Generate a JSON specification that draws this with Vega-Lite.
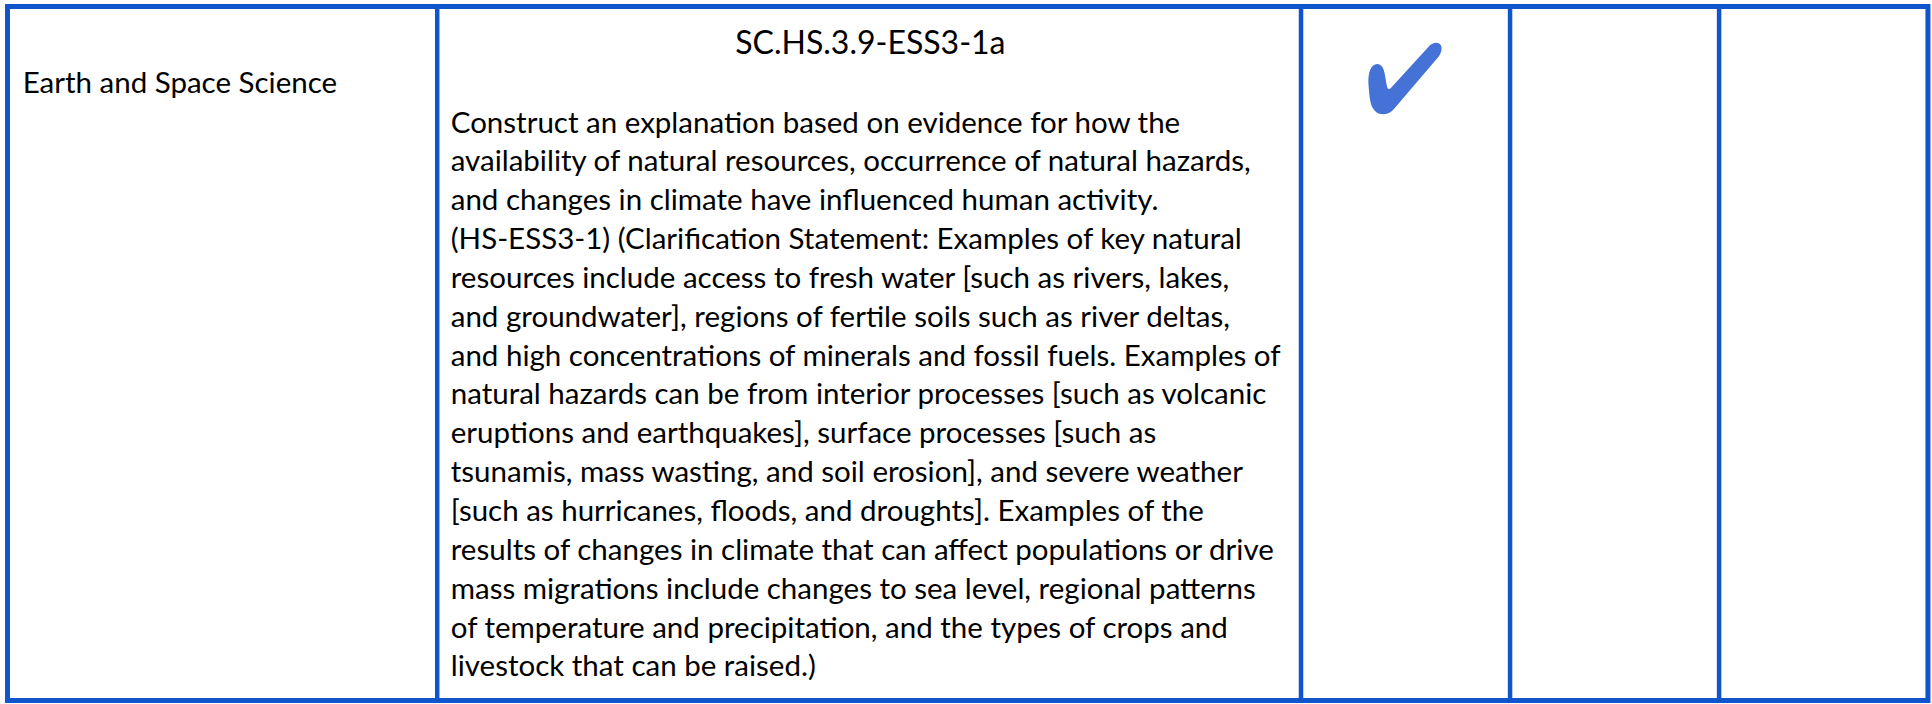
{
  "$schema": "https://vega.github.io/schema/vega-lite/v6.json",
  "width": 1932,
  "height": 704,
  "autosize": {"type": "fit", "contains": "padding"},
  "padding": 0,
  "background": "#ffffff",
  "config": {"view": {"stroke": null}},
  "layer": [
    {
      "data": {"values": [{"table": "row"}]},
      "mark": {"type": "rect", "fill": "#ffffff", "stroke": "#1155cc", "strokeWidth": 5},
      "encoding": {
        "x": {"datum": 0.388, "type": "quantitative", "scale": {"domain": [0, 100], "nice": false, "zero": false}, "axis": null},
        "x2": {"datum": 99.79},
        "y": {"datum": -3.244, "type": "quantitative", "scale": {"domain": [-3.411, 14.686], "nice": false, "zero": false, "reverse": true}, "axis": null},
        "y2": {"datum": 14.622}
      }
    },
    {
      "data": {"values": [{"edge": 22.63}, {"edge": 67.34}, {"edge": 78.16}, {"edge": 88.98}]},
      "mark": {"type": "rule", "color": "#1155cc", "strokeWidth": 4.5},
      "encoding": {
        "x": {"field": "edge", "type": "quantitative", "scale": {"domain": [0, 100], "nice": false, "zero": false}, "axis": null},
        "y": {"datum": -3.244, "type": "quantitative", "scale": {"domain": [-3.411, 14.686], "nice": false, "zero": false, "reverse": true}, "axis": null},
        "y2": {"datum": 14.622}
      }
    },
    {
      "data": {"values": [{"cell": "Earth and Space Science"}]},
      "mark": {"type": "text", "align": "left", "baseline": "alphabetic", "font": "Lato", "fontSize": 29.5, "color": "#000000"},
      "encoding": {
        "x": {"datum": 1.175, "type": "quantitative", "scale": {"domain": [0, 100], "nice": false, "zero": false}, "axis": null},
        "y": {"datum": -1.013, "type": "quantitative", "scale": {"domain": [-3.411, 14.686], "nice": false, "zero": false, "reverse": true}, "axis": null},
        "text": {"field": "cell"}
      }
    },
    {
      "data": {"values": [{"cell": "SC.HS.3.9-ESS3-1a"}]},
      "mark": {"type": "text", "align": "center", "baseline": "alphabetic", "font": "Lato", "fontSize": 32, "color": "#000000"},
      "encoding": {
        "x": {"datum": 45.05, "type": "quantitative", "scale": {"domain": [0, 100], "nice": false, "zero": false}, "axis": null},
        "y": {"datum": -2.023, "type": "quantitative", "scale": {"domain": [-3.411, 14.686], "nice": false, "zero": false, "reverse": true}, "axis": null},
        "text": {"field": "cell"}
      }
    },
    {
      "data": {"values": [
        {"line": 0, "text": "Construct an explanation based on evidence for how the"},
        {"line": 1, "text": "availability of natural resources, occurrence of natural hazards,"},
        {"line": 2, "text": "and changes in climate have influenced human activity."},
        {"line": 3, "text": "(HS-ESS3-1) (Clarification Statement: Examples of key natural"},
        {"line": 4, "text": "resources include access to fresh water [such as rivers, lakes,"},
        {"line": 5, "text": "and groundwater], regions of fertile soils such as river deltas,"},
        {"line": 6, "text": "and high concentrations of minerals and fossil fuels. Examples of"},
        {"line": 7, "text": "natural hazards can be from interior processes [such as volcanic"},
        {"line": 8, "text": "eruptions and earthquakes], surface processes [such as"},
        {"line": 9, "text": "tsunamis, mass wasting, and soil erosion], and severe weather"},
        {"line": 10, "text": "[such as hurricanes, floods, and droughts]. Examples of the"},
        {"line": 11, "text": "results of changes in climate that can affect populations or drive"},
        {"line": 12, "text": "mass migrations include changes to sea level, regional patterns"},
        {"line": 13, "text": "of temperature and precipitation, and the types of crops and"},
        {"line": 14, "text": "livestock that can be raised.)"}
      ]},
      "mark": {"type": "text", "align": "left", "baseline": "alphabetic", "font": "Lato", "fontSize": 29.5, "color": "#000000"},
      "encoding": {
        "x": {"datum": 23.33, "type": "quantitative", "scale": {"domain": [0, 100], "nice": false, "zero": false}, "axis": null},
        "y": {"field": "line", "type": "quantitative", "scale": {"domain": [-3.411, 14.686], "nice": false, "zero": false, "reverse": true}, "axis": null},
        "text": {"field": "text"}
      }
    },
    {
      "data": {"values": [{"status": "met"}]},
      "mark": {"type": "point", "shape": "M-0.60,-0.32 C-0.52,-0.25 -0.50,0.05 -0.46,0.22 C-0.45,0.28 -0.40,0.30 -0.36,0.25 L0.62,-0.82 C0.72,-0.95 0.88,-0.98 0.95,-0.88 C1.0,-0.8 0.97,-0.68 0.90,-0.58 L-0.28,0.80 C-0.40,0.95 -0.62,0.98 -0.75,0.88 C-0.90,0.76 -0.92,0.55 -0.95,0.15 C-0.97,-0.15 -0.88,-0.38 -0.72,-0.38 C-0.66,-0.38 -0.63,-0.35 -0.60,-0.32 Z", "filled": true, "size": 5776, "color": "#4472d6", "opacity": 1, "strokeWidth": 0},
      "encoding": {
        "x": {"datum": 72.70, "type": "quantitative", "scale": {"domain": [0, 100], "nice": false, "zero": false}, "axis": null},
        "y": {"datum": -1.39, "type": "quantitative", "scale": {"domain": [-3.411, 14.686], "nice": false, "zero": false, "reverse": true}, "axis": null}
      }
    }
  ]
}
